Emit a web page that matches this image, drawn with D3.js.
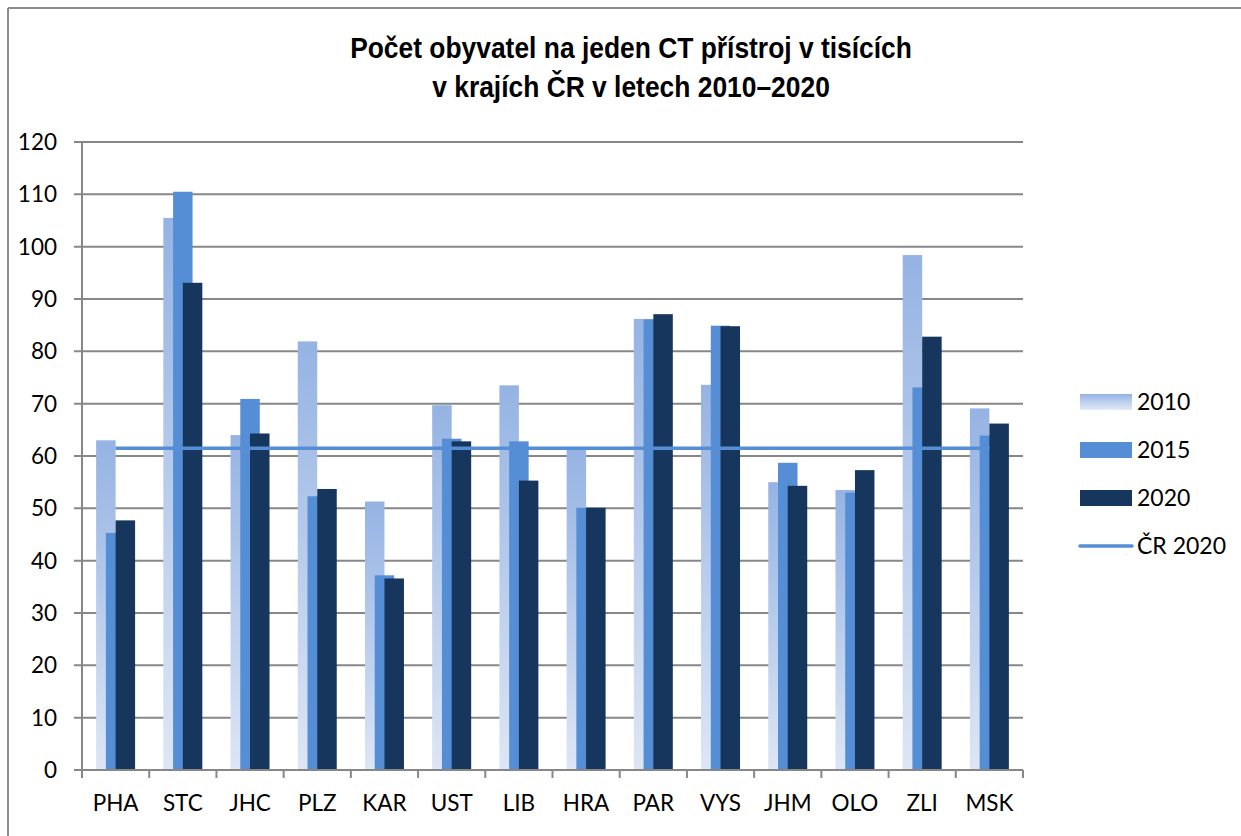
<!DOCTYPE html>
<html>
<head>
<meta charset="utf-8">
<script src="https://cdn.jsdelivr.net/npm/d3@7"></script>
<style>
  body { margin: 0; background: #fff; }
  text { font-family: Lato, "Noto Sans", sans-serif; fill: #000; }
</style>
</head>
<body>
<div id="vis-container"></div>
<script>
// kraje
categories = ["PHA","STC","JHC","PLZ","KAR","UST","LIB","HRA","PAR","VYS","JHM","OLO","ZLI","MSK"]
years = ["2010","2015","2020"]
values2010 = [63.0,105.5,64.0,81.9,51.3,69.7,73.5,61.6,86.2,73.6,55.0,53.5,98.4,69.1]
values2015 = [45.3,110.5,70.9,52.3,37.2,63.3,62.8,50.1,86.1,84.9,58.7,53.0,73.1,63.9]
values2020 = [47.7,93.1,64.3,53.7,36.6,62.8,55.3,50.1,87.1,84.8,54.3,57.3,82.8,66.2]
cr2020 = 61.5
yTicks = [0,10,20,30,40,50,60,70,80,90,100,110,120]

chart = {
  "width": 1241, "height": 836,
  "margin": {"top": 142, "bottom": 66, "left": 82, "right": 218},
  "colors": {"2015": "#558ed5", "2020": "#17365d", "line": "#558ed5", "grid": "#878787"}
}

svg = d3.select("#vis-container").append("svg").attr("width", chart.width).attr("height", chart.height)

defs = svg.append("defs")
grad = defs.append("linearGradient").attr("id","grad2010").attr("x1",0).attr("y1",0).attr("x2",0).attr("y2",1)
grad.append("stop").attr("offset","0%").attr("stop-color","#95b3e3")
grad.append("stop").attr("offset","100%").attr("stop-color","#dde6f5")
gradL = defs.append("linearGradient").attr("id","grad2010leg").attr("x1",0).attr("y1",0).attr("x2",0).attr("y2",1)
gradL.append("stop").attr("offset","0%").attr("stop-color","#95b3e3")
gradL.append("stop").attr("offset","100%").attr("stop-color","#e3eaf7")

// outer frame (top + left visible)
svg.append("line").attr("x1",8).attr("x2",chart.width).attr("y1",8).attr("y2",8).attr("stroke","#8c8c8c").attr("stroke-width",2)
svg.append("line").attr("x1",8).attr("x2",8).attr("y1",8).attr("y2",chart.height).attr("stroke","#8c8c8c").attr("stroke-width",2)

// title - narrow bold, squeezed horizontally
title = svg.append("text").attr("text-anchor","middle")
  .attr("transform","translate(631,0) scale(0.88,1)")
  .style("font-family","'Liberation Sans', Arial, sans-serif")
  .style("font-weight","bold").style("font-size","30px")
title.append("tspan").attr("x",0).attr("y",58).text("Počet obyvatel na jeden CT přístroj v tisících")
title.append("tspan").attr("x",0).attr("y",97).text("v krajích ČR v letech 2010–2020")

x0 = chart.margin.left
x1 = chart.width - chart.margin.right
y0 = chart.height - chart.margin.bottom
yTop = chart.margin.top

xScale = d3.scaleBand().domain(categories).range([x0, x1])
yScale = d3.scaleLinear().domain([0,120]).range([y0, yTop])

g = svg.append("g")

// gridlines
g.selectAll(".grid").data(yTicks.filter(d => d > 0)).enter().append("line")
  .attr("class","grid")
  .attr("x1", x0 - 8).attr("x2", x1)
  .attr("y1", d => yScale(d)).attr("y2", d => yScale(d))
  .attr("stroke", chart.colors.grid).attr("stroke-width", 2)

// overlapping bars: each bar is 29% of the band, shifted by half a bar
barW = xScale.bandwidth() * 0.29
seriesData = {"2010": values2010, "2015": values2015, "2020": values2020}
fills = {"2010": "url(#grad2010)", "2015": chart.colors["2015"], "2020": chart.colors["2020"]}

years.forEach(function(yr, k){
  g.selectAll(".bar-" + yr).data(categories).enter().append("rect")
    .attr("class","bar-" + yr)
    .attr("x", d => xScale(d) + xScale.bandwidth()/2 - barW + k * barW / 2)
    .attr("width", barW)
    .attr("y", (d,i) => yScale(seriesData[yr][i]))
    .attr("height", (d,i) => y0 - yScale(seriesData[yr][i]))
    .attr("fill", fills[yr])
})

// axes
g.append("line").attr("x1",x0).attr("x2",x0).attr("y1",yTop).attr("y2",y0).attr("stroke",chart.colors.grid).attr("stroke-width",2)
g.append("line").attr("x1",x0 - 8).attr("x2",x1).attr("y1",y0).attr("y2",y0).attr("stroke",chart.colors.grid).attr("stroke-width",2)
xBounds = categories.map(d => xScale(d)).concat([x1])
g.selectAll(".xtick").data(xBounds).enter().append("line")
  .attr("x1", d => d).attr("x2", d => d).attr("y1", y0).attr("y2", y0 + 8)
  .attr("stroke", chart.colors.grid).attr("stroke-width", 2)

g.selectAll(".ylabel").data(yTicks).enter().append("text")
  .attr("x", 57).attr("y", d => yScale(d) + 8)
  .attr("text-anchor","end").style("font-size","22.5px")
  .text(d => d)

g.selectAll(".xlabel").data(categories).enter().append("text")
  .attr("x", d => xScale(d) + xScale.bandwidth()/2).attr("y", 811)
  .attr("text-anchor","middle").style("font-size","22.5px")
  .text(d => d)

// CR 2020 line
line = d3.line().x(d => xScale(d) + xScale.bandwidth()/2).y(() => yScale(cr2020))
g.append("path").attr("d", line(categories)).attr("fill","none")
  .attr("stroke", chart.colors.line).attr("stroke-width", 3.5)

// legend
legendItems = [
  {"label": "2010", "fill": "url(#grad2010leg)", "type": "rect"},
  {"label": "2015", "fill": chart.colors["2015"], "type": "rect"},
  {"label": "2020", "fill": chart.colors["2020"], "type": "rect"},
  {"label": "ČR 2020", "fill": chart.colors.line, "type": "line"}
]
leg = svg.append("g").attr("transform","translate(1080,402)")
legendItems.forEach(function(d,i){
  let row = leg.append("g").attr("transform","translate(0," + (i*48) + ")")
  if(d.type == "rect"){
    row.append("rect").attr("x",0).attr("y",-8).attr("width",52).attr("height",16).attr("fill",d.fill)
  } else {
    row.append("line").attr("x1",0).attr("x2",52).attr("y1",0).attr("y2",0).attr("stroke",d.fill).attr("stroke-width",3.5).attr("stroke-linecap","round")
  }
  row.append("text").attr("x",57).attr("y",8).style("font-size","23px").text(d.label)
})
</script>
</body>
</html>
